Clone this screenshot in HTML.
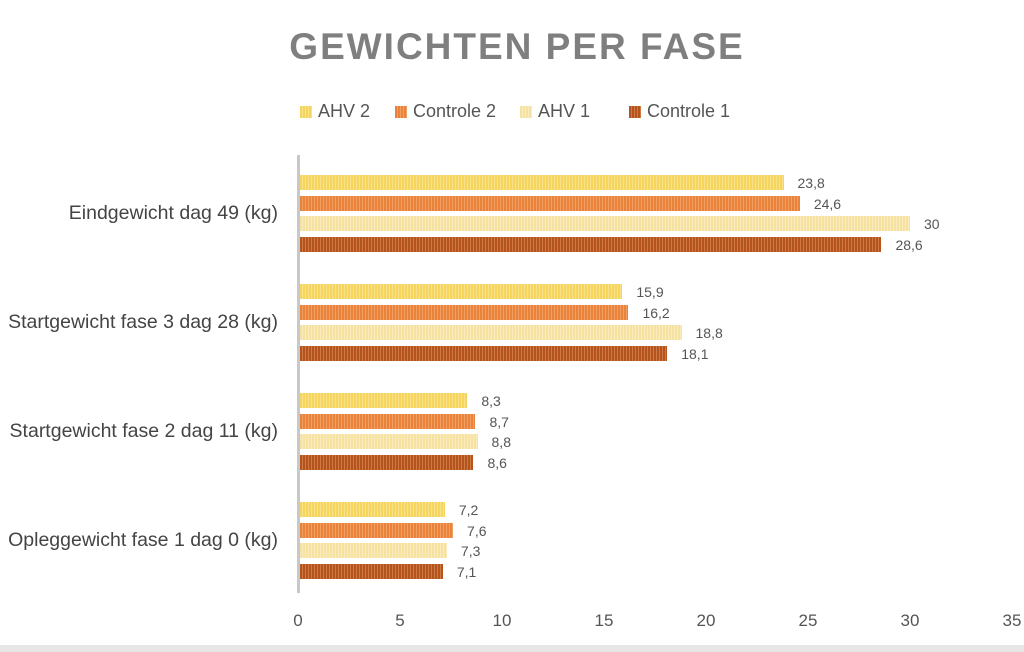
<!DOCTYPE html><html><head><style>
body{margin:0;width:1024px;height:652px;background:#fff;font-family:"Liberation Sans",sans-serif;position:relative;overflow:hidden}
.t{position:absolute;top:26px;left:0;width:1034px;text-align:center;font-size:37px;font-weight:bold;color:#7f7f7f;letter-spacing:2px}
.lg{position:absolute;top:101px;font-size:18px;color:#555}
.lg i{display:inline-block;width:12px;height:12px;margin-right:6px;vertical-align:-1px}
.b{position:absolute;left:300px;height:15px}
.v{position:absolute;font-size:14px;color:#555}
.c{position:absolute;right:746px;font-size:19.5px;color:#444;white-space:nowrap}
.x{position:absolute;top:611px;font-size:17px;color:#555;transform:translateX(-50%)}
.y1{background:repeating-linear-gradient(90deg,#f5d55e 0 2px,#f9e28c 2px 3px)}
.o2{background:repeating-linear-gradient(90deg,#e9823a 0 2px,#f0a062 2px 3px)}
.y2{background:repeating-linear-gradient(90deg,#f6e2a0 0 2px,#faecbf 2px 3px)}
.d1{background:repeating-linear-gradient(90deg,#b4531c 0 2px,#cd7a44 2px 3px)}
</style></head><body>
<div class="t">GEWICHTEN PER FASE</div>
<div class="lg" style="left:300px"><i class="y1"></i>AHV 2</div>
<div class="lg" style="left:395px"><i class="o2"></i>Controle 2</div>
<div class="lg" style="left:520px"><i class="y2"></i>AHV 1</div>
<div class="lg" style="left:629px"><i class="d1"></i>Controle 1</div>
<div style="position:absolute;left:297px;top:155px;width:3px;height:438px;background:#c8c8c8"></div>
<div id="bars"></div>
<div class="c" style="top:202px">Eindgewicht dag 49 (kg)</div>
<div class="c" style="top:311px">Startgewicht fase 3 dag 28 (kg)</div>
<div class="c" style="top:420px">Startgewicht fase 2 dag 11 (kg)</div>
<div class="c" style="top:529px">Opleggewicht fase 1 dag 0 (kg)</div>
<div class="x" style="left:298px">0</div><div class="x" style="left:400px">5</div><div class="x" style="left:502px">10</div><div class="x" style="left:604px">15</div><div class="x" style="left:706px">20</div><div class="x" style="left:808px">25</div><div class="x" style="left:910px">30</div><div class="x" style="left:1012px">35</div>
<div style="position:absolute;left:0;top:645px;width:1024px;height:7px;background:#e6e6e6"></div>
<script>
var d=[[23.8,24.6,30,28.6],[15.9,16.2,18.8,18.1],[8.3,8.7,8.8,8.6],[7.2,7.6,7.3,7.1]],cl=['y1','o2','y2','d1'],tops=[175,284,393,502],h='';
d.forEach(function(g,i){g.forEach(function(v,j){var y=tops[i]+j*20.7,w=v*20.4-2;
h+='<div class="b '+cl[j]+'" style="top:'+y+'px;width:'+w+'px"></div>';
h+='<div class="v" style="top:'+(y)+'px;left:'+(300+w+14)+'px">'+String(v).replace('.',',')+'</div>';});});
document.getElementById('bars').innerHTML=h;
</script></body></html>
